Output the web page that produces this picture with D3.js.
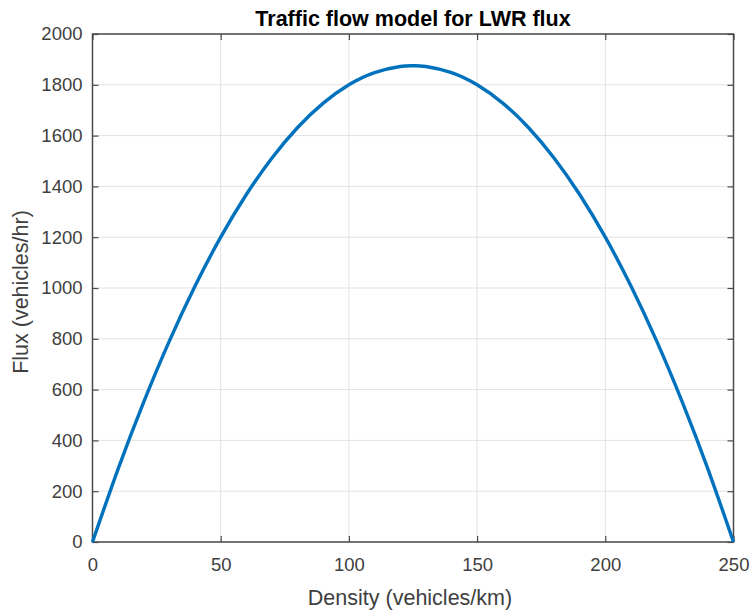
<!DOCTYPE html>
<html>
<head>
<meta charset="utf-8">
<script src="https://cdn.jsdelivr.net/npm/d3@7"></script>
<style>
  html, body { margin: 0; padding: 0; background: #fff; }
  svg { display: block; font-family: "Liberation Sans", Arial, Helvetica, sans-serif; }
</style>
</head>
<body>
<svg id="chart" width="750" height="610"></svg>
<script>
// Density (vehicles/km) samples and the corresponding flux (vehicles/hr)
const density = [0, 10, 20, 30, 40, 50, 60, 70, 80, 90, 100, 110, 120, 125,
                 130, 140, 150, 160, 170, 180, 190, 200, 210, 220, 230, 240, 250];
const flux = [0, 288, 552, 792, 1008, 1200, 1368, 1512, 1632, 1728, 1800, 1848, 1872, 1875,
              1872, 1848, 1800, 1728, 1632, 1512, 1368, 1200, 1008, 792, 552, 288, 0];

const xTicks = [0, 50, 100, 150, 200, 250];
const yTicks = [0, 200, 400, 600, 800, 1000, 1200, 1400, 1600, 1800, 2000];

const titleText = "Traffic flow model for LWR flux";
const xLabel = "Density (vehicles/km)";
const yLabel = "Flux (vehicles/hr)";

const svg = d3.select("#chart");
const m = { left: 92.5, right: 733.5, top: 34, bottom: 542 };

const x = d3.scaleLinear().domain([0, 250]).range([m.left, m.right]);
const y = d3.scaleLinear().domain([0, 2000]).range([m.bottom, m.top]);

const axisColor = "#4a4a4a";
const tickTextColor = "#404040";
const gridColor = "#e3e3e3";

// grid lines
const grid = svg.append("g");
grid.selectAll(".gx").data(xTicks).join("line")
  .attr("x1", d => x(d)).attr("x2", d => x(d))
  .attr("y1", m.top).attr("y2", m.bottom)
  .attr("stroke", gridColor).attr("stroke-width", 1);
grid.selectAll(".gy").data(yTicks).join("line")
  .attr("x1", m.left).attr("x2", m.right)
  .attr("y1", d => y(d)).attr("y2", d => y(d))
  .attr("stroke", gridColor).attr("stroke-width", 1);

// axes with inward ticks on all four sides
const tickLen = 6;
function styleAxis(g) {
  g.select(".domain").remove();
  g.selectAll(".tick line").attr("stroke", axisColor).attr("stroke-width", 1.2);
  g.selectAll(".tick text").attr("fill", tickTextColor).style("font-size", "18.5px")
    .style("font-family", "'Liberation Sans', Arial, sans-serif");
}

svg.append("g").attr("transform", `translate(0,${m.bottom})`)
  .call(d3.axisBottom(x).tickValues(xTicks).tickSize(-tickLen).tickPadding(16).tickFormat(d3.format("d")))
  .call(styleAxis);
svg.append("g").attr("transform", `translate(0,${m.top})`)
  .call(d3.axisTop(x).tickValues(xTicks).tickSize(-tickLen).tickFormat(""))
  .call(styleAxis);
svg.append("g").attr("transform", `translate(${m.left},0)`)
  .call(d3.axisLeft(y).tickValues(yTicks).tickSize(-tickLen).tickPadding(10).tickFormat(d3.format("d")))
  .call(styleAxis);
svg.append("g").attr("transform", `translate(${m.right},0)`)
  .call(d3.axisRight(y).tickValues(yTicks).tickSize(-tickLen).tickFormat(""))
  .call(styleAxis);

// box
svg.append("rect")
  .attr("x", m.left).attr("y", m.top)
  .attr("width", m.right - m.left).attr("height", m.bottom - m.top)
  .attr("fill", "none").attr("stroke", axisColor).attr("stroke-width", 1.5);

// flux curve
const pts = density.map((d, i) => [d, flux[i]]);
svg.append("path")
  .datum(pts)
  .attr("d", d3.line().x(d => x(d[0])).y(d => y(d[1])).curve(d3.curveNatural))
  .attr("fill", "none")
  .attr("stroke", "#0072BD")
  .attr("stroke-width", 3.4)
  .attr("stroke-linejoin", "round");

// title and labels
svg.append("text")
  .attr("x", (m.left + m.right) / 2).attr("y", 26)
  .attr("text-anchor", "middle")
  .style("font-size", "21.5px").style("font-weight", "bold")
  .attr("fill", "#000")
  .text(titleText);

svg.append("text")
  .attr("x", (m.left + m.right) / 2 - 3).attr("y", 605)
  .attr("text-anchor", "middle")
  .style("font-size", "21.5px")
  .attr("fill", tickTextColor)
  .text(xLabel);

svg.append("text")
  .attr("transform", `translate(28,${(m.top + m.bottom) / 2 + 4}) rotate(-90)`)
  .attr("text-anchor", "middle")
  .style("font-size", "21.5px")
  .attr("fill", tickTextColor)
  .text(yLabel);
</script>
</body>
</html>
